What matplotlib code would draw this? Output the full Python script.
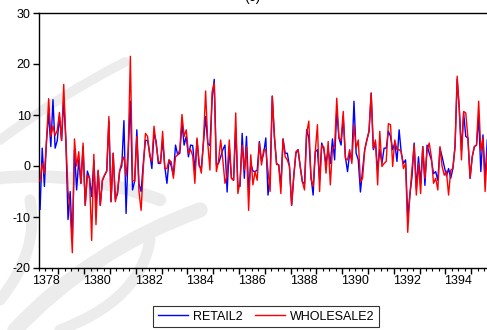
import numpy as np
import matplotlib
matplotlib.use("Agg")
import matplotlib.pyplot as plt
from matplotlib.path import Path
from matplotlib.patches import PathPatch

plt.rcParams['font.family'] = ['Liberation Sans', 'DejaVu Sans']

# Monthly series, first observation 1378:04
start_year = 1378
start_month = 4

retail2 = [
    -8.5, 3.5, -4, 5, 10.4, 3.8, 13, 3.5, 5, 9.7, 5, 13, 5, -10.5, -5, -14.6,
    3.2, -4.7, 1.2, -3.4, 3.8, -7.7, -1, -2.4, -6, 1, -8, -1, -7.7, -2.8, -1.8, -1,
    8.8, -7, 2.5, -6.5, -5.5, -1, 0, 8.9, -9.3, 3, 12.7, -4.7, -3, 7.1, -3.5, -5,
    0.5, 5, 5, 2.5, -0.5, 6.4, 4.8, 0.5, 0.5, 5.1, -0.1, -3.4, 1.2, 0, -1.8, 4.1,
    2.2, 2.5, 8.4, 4.1, 5.8, 1.8, 4.1, 4, -1, 5.1, 0, -0.5, 4.5, 9.7, 4.4, 4,
    13, 17, 0.2, 0.5, 1.8, 3.2, 4.1, -5.1, 3.8, -2.4, -2.8, 7.4, -3.8, -4, 6.4, -2.4,
    5.8, -4.7, 0.5, -1, -1.1, -0.8, 4.8, 0.9, 2.5, 5.5, -5.7, -2, 13.7, 5.5, 0.5, 0.2,
    -4, 5.3, 2.5, 2.5, -0.1, -7.7, -2, 2.5, 3.2, -0.1, -3.1, -3.5, 7.1, 5.5, -2, -5.7,
    2.8, 3.2, -2.8, 4.5, 3.2, 0.5, 3.2, 0.5, 5.3, 1.2, 11, 5.5, 4.1, 9.7, 1.8, -1.1,
    2.5, 1.2, 12.7, 2.5, 1.2, -5.1, -0.8, 3.2, 5.1, 6.8, 14.3, 3.2, 4.5, -0.8, 3.2, 0.5,
    3.5, 3.5, 6.8, 5.8, 3.2, 4.5, 0.9, 7.1, 2.5, 0.5, 1.2, -10, -5.7, -2, 4.5, -4.5,
    1.8, -3.5, 3.8, -3.8, 4.1, 2.5, 1.2, -1.5, -1.1, -2.8, 3.5, 1.8, -0.1, -2, -0.5, -2.4,
    -0.5, 3.8, 17, 11, 3, 10.4, 5.8, 5.5, -2.4, 1.8, 3.8, 4.1, 9.7, -1.1, 6.1, -2.5,
    5.1,
]

wholesale2 = [
    -3, 0.5, -1.5, 5, 13.2, 5.8, 7.8, 6, 7, 10.5, 5, 16, 5, -5, -8.7, -17,
    5.3, 0, 2.8, -3.4, 4.5, -7.7, -1.8, -2.4, -14.6, 2.3, -11.5, -0.8, -7.7, -2.8, -1.8, -1,
    9.7, -7, 2.5, -7, -5, -1, 0.8, 1.8, -2, 3, 21.5, -2.8, -3, 5.8, -5, -8.7,
    -0.5, 6.4, 5.8, 2, 0.9, 7.8, 4.2, 1, 0.5, 6.8, -0.5, -0.5, 1.2, 0.8, -2.4, 1.8,
    2.2, 3.2, 10.1, 5.8, 7.1, 2.5, 3.2, 2, -3.4, 5.5, 0.5, -1.4, 5, 14.7, 4.5, -0.8,
    14.5, 16.3, -1.1, 1, 5.1, 1.2, -3.4, -1.8, 5.1, -2.4, -2.8, 10.4, -5.4, -3, 4.1, -0.8,
    3.8, -8.7, 2.2, -3.7, -1.1, -2.8, 4.5, 0.2, 3.2, 3.2, -0.8, -5, 13.7, 6, 0.3, 0.2,
    -5.4, 5.3, 1.8, 1.2, -0.1, -7.7, -2, 2.8, 3.2, -0.1, -3.1, -4.7, 6.5, 8.8, -2.5, -4,
    2.8, 8.1, -5, 4.1, 3.7, -1.4, 4.8, -3.7, 3.5, 3.8, 13.3, 5.5, 5, 10.7, 1.5, 1.2,
    3.2, 0.5, 8.1, 3.5, 5.1, -3.1, -2.4, 3.2, 5.1, 6.8, 14.3, 3.5, 5.1, -3.7, 6.8, -0.1,
    0.5, 0.9, 8.3, 8.1, -0.1, 5.1, 3.2, 3.2, 2.8, -0.5, 0.5, -13, -5.7, -0.5, 4.2, -5.7,
    0.5, -5.4, 3.8, -2.4, 3, 4.5, 1.8, -3.4, -2.4, -4.7, 3.8, -0.1, -1.8, -1, -5.7, -0.8,
    -0.5, 3.8, 17.6, 11, 1.2, 10.7, 10.4, 5.5, -2.4, 1.8, 3.8, 4.1, 12.7, 3, 5.5, -5,
    3,
]

year_labels = ['1378', '1380', '1382', '1384', '1386', '1388', '1390', '1392', '1394']
y_ticks = [-20, -10, 0, 10, 20, 30]
series_names = ['RETAIL2', 'WHOLESALE2']

W, H = 487, 330
fig = plt.figure(figsize=(W / 100, H / 100), dpi=100)
fig.patch.set_facecolor('white')

# faint background emblem, drawn in pixel units (origin top-left)
def band(points, lw, color):
    pts = [(x / 100, (H - y) / 100) for x, y in points]
    codes = [Path.MOVETO] + [Path.CURVE3] * (len(pts) - 1)
    if (len(pts) - 1) % 2:
        codes = [Path.MOVETO] + [Path.LINETO] * (len(pts) - 1)
    p = PathPatch(Path(pts, codes), fill=False, lw=lw, edgecolor=color,
                  capstyle='round', transform=fig.dpi_scale_trans, zorder=0)
    fig.add_artist(p)

emblem = '#ececec'
band([(0, 140), (60, 95), (125, 62)], 7, emblem)
band([(0, 178), (80, 170), (160, 200)], 9, emblem)
band([(15, 330), (90, 250), (200, 210)], 11, emblem)
band([(0, 300), (40, 250), (30, 200)], 8, emblem)
band([(60, 330), (140, 300), (150, 240)], 8, emblem)

ax = fig.add_axes([39 / W, 62 / H, 451 / W, 255 / H])
ax.set_facecolor('none')

n = len(retail2)
t = start_year + (start_month - 1 + 0.5 + np.arange(n)) / 12.0

ax.plot(t, retail2, color='#0000ff', lw=1.0, label=series_names[0], zorder=3)
ax.plot(t, wholesale2, color='#ff0000', lw=1.0, label=series_names[1], zorder=4)

# y axis
ax.set_yticks(y_ticks)
ax.set_yticklabels([str(v) for v in y_ticks])
ax.tick_params(axis='y', direction='out', length=4, width=1, labelsize=9, pad=2)

# x axis: year boundaries and quarterly minor ticks, labels centred within years
years = np.arange(1378, 1397)
ax.set_xticks(years)
ax.set_xticklabels([])
ax.set_xticks(np.arange(1378, 1397, 0.25), minor=True)
ax.tick_params(axis='x', which='major', direction='out', length=4, width=1)
ax.tick_params(axis='x', which='minor', direction='out', length=2.5, width=0.8)

sec = ax.secondary_xaxis('bottom')
sec.set_xticks([int(y) + 0.5 for y in year_labels])
sec.set_xticklabels(year_labels)
sec.tick_params(length=0, labelsize=9, pad=5)
sec.spines['bottom'].set_visible(False)

# limits last, so the tick lists do not widen the view
ax.set_xlim(1378.25, 1378.25 + 451 / 25.8)
ax.set_ylim(-20, 30)

for s in ['left', 'bottom', 'top']:
    ax.spines[s].set_linewidth(1.0)
    ax.spines[s].set_color('black')
ax.spines['right'].set_visible(False)

fig.text(252 / W, 1 + 3.5 / H, '(c)', ha='center', va='center', fontsize=10)

leg = fig.legend(loc='center', bbox_to_anchor=(266 / W, 1 - 316.5 / H), ncol=2,
                 fontsize=9, frameon=True, fancybox=False, handlelength=2.4,
                 handletextpad=0.4, columnspacing=1.0, borderpad=0.35,
                 borderaxespad=0)
leg.get_frame().set_edgecolor('black')
leg.get_frame().set_linewidth(0.8)
for line in leg.get_lines():
    line.set_linewidth(1.0)

fig.savefig('out.png', dpi=100)
